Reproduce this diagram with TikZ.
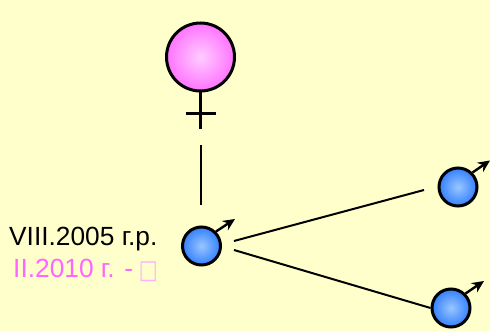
\documentclass[tikz,border=0pt]{standalone}
\usepackage{fontspec}
\usepackage{graphicx}
\setmainfont{Liberation Sans}
\newfontfamily\boxfont{DejaVu Sans}
\usetikzlibrary{arrows.meta}
\definecolor{bgc}{HTML}{FFFFCC}
\definecolor{pinkt}{HTML}{FF66FF}
\definecolor{pinkb}{HTML}{FFB0FF}
\definecolor{malein}{HTML}{99C6FF}
\definecolor{maleout}{HTML}{3380FF}
\definecolor{femin}{HTML}{FFCCFF}
\definecolor{femout}{HTML}{FF73FF}
\tikzset{x=1pt,y=-1pt,
 malebody/.style={circle,draw=black,line width=3pt,minimum size=38pt,inner sep=0pt,inner color=malein,outer color=maleout},
 femalebody/.style={circle,draw=black,line width=3pt,minimum size=68pt,inner sep=0pt,inner color=femin,outer color=femout},
 link/.style={line width=2pt,draw=black},
 stem/.style={line width=3pt,draw=black},
 maleptr/.style={line width=2.4pt,draw=black,-{Stealth[length=12pt,width=11pt]}},
 lab/.style={font=\fontsize{26.3}{26.3}\selectfont,anchor=base west,inner sep=0pt}
}
\begin{document}
\begin{tikzpicture}
\useasboundingbox (0,0) rectangle (490,331);
\fill[bgc] (0,0) rectangle (490,331);
% female
\node[femalebody] (f) at (200.5,57) {};
\coordinate (fs) at (200.5,129);
\coordinate (cl) at (185.5,114);
\coordinate (cr) at (216,114);
\draw[stem] (f.south) -- (fs);
\draw[stem] (cl) -- (cr);
% males
\node[malebody] (m1) at (201.5,246) {};
\node[malebody] (m2) at (458,187) {};
\node[malebody] (m3) at (451,308) {};
\coordinate (t1) at (235,219);
\coordinate (t2) at (490,160.5);
\coordinate (t3) at (484,281);
\draw[maleptr] (m1.45) -- (t1);
\draw[maleptr] (m2.45) -- (t2);
\draw[maleptr] (m3.45) -- (t3);
% links
\coordinate (a0) at (200.5,145);
\coordinate (a1) at (200.5,205);
\draw[link] (a0) -- (a1);
\coordinate (b0) at (234,241);
\coordinate (b1) at (424,190);
\draw[link] (b0) -- (b1);
\coordinate (c0) at (234,250);
\draw[link] (c0) -- (m3.west);
% labels
\node[lab] (l1) at (9,245) {VIII.2005 г.р.};
\node[lab,text=pinkt] (l2) at (13,277) {II.2010 г. - \kern-1.5pt{\boxfont\color{pinkb}\fontsize{20}{20}\selectfont\raisebox{-1pt}{\scalebox{1}[1.3]{□}}}};
\end{tikzpicture}
\end{document}
